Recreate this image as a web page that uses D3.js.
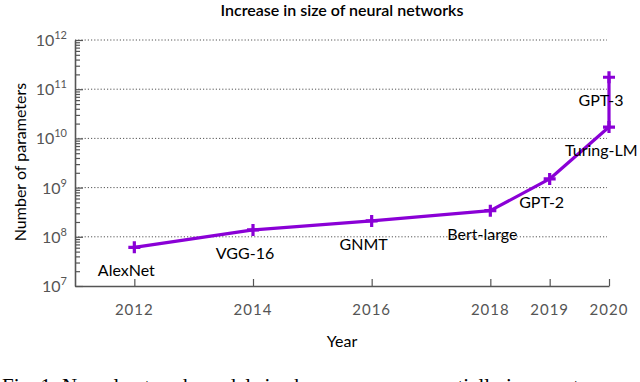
<!DOCTYPE html>
<html>
<head>
<meta charset="utf-8">
<script src="https://cdn.jsdelivr.net/npm/d3@7"></script>
<style>
  body { margin: 0; background: #fff; }
  svg { display: block; }
  text { font-family: Lato, "Open Sans", sans-serif; }
</style>
</head>
<body>
<script>
// Data.
const models = ["AlexNet", "VGG-16", "GNMT", "Bert-large", "GPT-2", "Turing-LM", "GPT-3"];
const years = [2012, 2014, 2016, 2018, 2019, 2020, 2020];
const params = [6.1e7, 1.38e8, 2.1e8, 3.4e8, 1.5e9, 1.7e10, 1.75e11];
const yearTicks = [2012, 2014, 2016, 2018, 2019, 2020];
const exponents = [7, 8, 9, 10, 11, 12];

const width = 640;
const height = 382;
const purple = "#8a00d6";
const axisGray = "#555";

const svg = d3.select("body").append("svg")
  .attr("width", width)
  .attr("height", height);

// Scales: linear in year, log in parameter count.
const x = d3.scaleLinear().domain([2011, 2020]).range([75, 609]);
const y = d3.scaleLog().domain([1e7, 1e12]).range([286, 40]);

// Dotted grid at every decade above the x axis.
svg.append("g")
  .selectAll("line")
  .data(exponents.slice(1))
  .enter()
  .append("line")
  .attr("x1", x(2011))
  .attr("x2", x(2020) - 2)
  .attr("y1", d => y(Math.pow(10, d)))
  .attr("y2", d => y(Math.pow(10, d)))
  .attr("stroke", axisGray)
  .attr("stroke-width", 1)
  .attr("stroke-dasharray", "1.2,2");

// Left axis with log minor ticks pointing inwards.
const yAxis = d3.axisRight(y)
  .tickValues(d3.range(7, 12).flatMap(e => d3.range(1, 10).map(m => m * Math.pow(10, e))).concat([1e12]))
  .tickSize(0)
  .tickFormat("");
const gy = svg.append("g").attr("transform", `translate(${x(2011)},0)`).call(yAxis);
gy.select(".domain").attr("stroke", axisGray).attr("stroke-width", 1.6);
gy.selectAll(".tick line")
  .attr("stroke", axisGray)
  .attr("stroke-width", 1.2)
  .attr("x2", d => Math.abs(Math.log10(d) - Math.round(Math.log10(d))) < 1e-9 ? 8 : 5);

// Left tick labels as 10 with superscript exponent.
const yLabels = svg.append("g")
  .selectAll("text")
  .data(exponents)
  .enter()
  .append("text")
  .attr("x", x(2011) - 8)
  .attr("y", d => y(Math.pow(10, d)) + 6)
  .attr("text-anchor", "end")
  .attr("fill", axisGray)
  .style("font-size", "16px");
yLabels.append("tspan").text("10");
yLabels.append("tspan")
  .attr("dy", -7)
  .style("font-size", "11px")
  .text(d => d);

// Bottom axis with ticks pointing up.
const xAxis = d3.axisTop(x)
  .tickValues(yearTicks)
  .tickSize(7)
  .tickSizeOuter(0)
  .tickFormat("");
const gx = svg.append("g").attr("transform", `translate(0,${y(1e7)})`).call(xAxis);
gx.select(".domain").attr("stroke", axisGray).attr("stroke-width", 1.6);
gx.selectAll(".tick line").attr("stroke", axisGray).attr("stroke-width", 1.2);

svg.append("g")
  .selectAll("text")
  .data(yearTicks)
  .enter()
  .append("text")
  .attr("x", d => x(d))
  .attr("y", 315)
  .attr("text-anchor", "middle")
  .attr("fill", axisGray)
  .style("font-size", "15px")
  .style("letter-spacing", "1px")
  .text(d => d);

// Series line and "+" markers.
const points = models.map((m, i) => ({ name: m, year: years[i], value: params[i] }));

svg.append("path")
  .datum(points)
  .attr("fill", "none")
  .attr("stroke", purple)
  .attr("stroke-width", 3.2)
  .attr("stroke-linejoin", "round")
  .attr("d", d3.line().x(d => x(d.year)).y(d => y(d.value)));

svg.append("g")
  .selectAll("path")
  .data(points)
  .enter()
  .append("path")
  .attr("transform", d => `translate(${x(d.year)},${y(d.value)})`)
  .attr("d", "M-6,0H6M0,-6V6")
  .attr("stroke", purple)
  .attr("stroke-width", 3.2)
  .attr("fill", "none");

// Model name labels sit below and slightly left of each point.
svg.append("g")
  .selectAll("text")
  .data(points)
  .enter()
  .append("text")
  .attr("x", d => x(d.year) - 8)
  .attr("y", d => y(d.value) + 29)
  .attr("text-anchor", d => d.name === "Turing-LM" ? "start" : "middle")
  .attr("dx", d => d.name === "Turing-LM" ? -36 : 0)
  .attr("fill", "#000")
  .style("font-size", "16px")
  .text(d => d.name);

// Title and axis titles.
svg.append("text")
  .attr("x", 342)
  .attr("y", 16)
  .attr("text-anchor", "middle")
  .style("font-size", "16px")
  .style("font-weight", "600")
  .text("Increase in size of neural networks");

svg.append("text")
  .attr("transform", "translate(26,162) rotate(-90)")
  .attr("text-anchor", "middle")
  .style("font-size", "16px")
  .text("Number of parameters");

svg.append("text")
  .attr("x", 342)
  .attr("y", 347)
  .attr("text-anchor", "middle")
  .style("font-size", "16px")
  .text("Year");

// Caption of the paper figure, cut off by the bottom edge as in the source.
svg.append("text")
  .attr("x", 2)
  .attr("y", 393)
  .style("font-family", "'Liberation Serif', serif")
  .style("font-size", "21px")
  .text("Fig. 1: Neural network model size has grown exponentially in recent years");
</script>
</body>
</html>
